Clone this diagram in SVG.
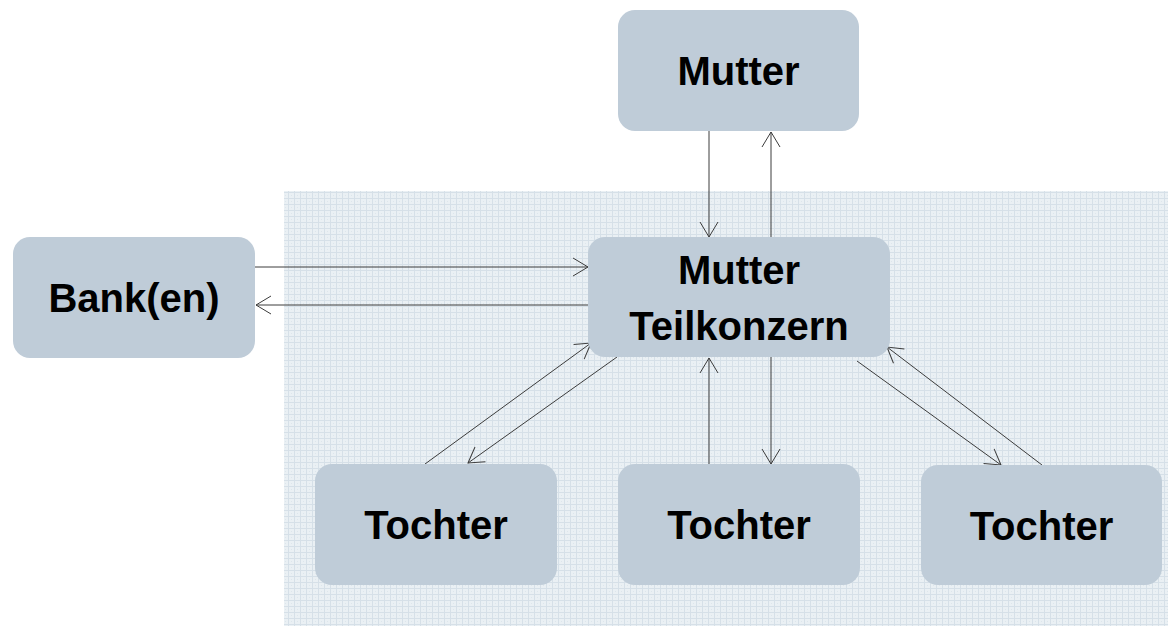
<svg xmlns="http://www.w3.org/2000/svg" width="1168" height="626" viewBox="0 0 1168 626">
<style>
.node{fill:#bfccd8;}
.lbl{font-family:"Liberation Sans",Arial,sans-serif;font-weight:bold;font-size:40px;fill:#000;text-anchor:middle;}
.con{stroke:#3c3c3c;stroke-width:1;fill:none;marker-end:url(#arr);}
</style>
<defs>
<pattern id="grid" width="6" height="6" patternUnits="userSpaceOnUse">
<rect width="6" height="6" fill="#eaf0f4"/>
<rect x="0" y="0" width="6" height="1" fill="#d6e0e8"/>
<rect x="0" y="0" width="1" height="6" fill="#d6e0e8"/>
<rect x="3" y="3" width="1" height="1" fill="#dde6ec"/>
</pattern>
<marker id="arr" viewBox="-16 -10 17 20" refX="0" refY="0" markerWidth="17" markerHeight="20" markerUnits="userSpaceOnUse" orient="auto">
<path d="M-15,-9 L0,0 L-15,9" fill="none" stroke="#3c3c3c" stroke-width="1"/>
</marker>
</defs>
<rect x="0" y="0" width="1168" height="626" fill="#ffffff"/>
<rect x="284" y="191" width="884" height="435" fill="url(#grid)"/>
<g id="connectors">
<line class="con" x1="709" y1="131" x2="709" y2="237"/>
<line class="con" x1="771" y1="237" x2="771" y2="132"/>
<line class="con" x1="255" y1="267" x2="588" y2="267"/>
<line class="con" x1="588" y1="305" x2="256" y2="305"/>
<line class="con" x1="425" y1="464" x2="591" y2="343"/>
<line class="con" x1="617" y1="357" x2="468" y2="463"/>
<line class="con" x1="709" y1="464" x2="709" y2="358"/>
<line class="con" x1="771" y1="357" x2="771" y2="464"/>
<line class="con" x1="857" y1="361" x2="1001" y2="465"/>
<line class="con" x1="1042" y1="465" x2="887" y2="347"/>
</g>
<g id="mutter">
<rect class="node" x="618" y="10" width="241" height="121" rx="17"/>
<text class="lbl" x="738.5" y="85">Mutter</text>
</g>
<g id="mutter-teilkonzern">
<rect class="node" x="588" y="237" width="302" height="120" rx="17"/>
<text class="lbl" x="739" y="284">Mutter</text>
<text class="lbl" x="739" y="340">Teilkonzern</text>
</g>
<g id="bank">
<rect class="node" x="13" y="237" width="242" height="121" rx="17"/>
<text class="lbl" x="134" y="312">Bank(en)</text>
</g>
<g id="tochter1">
<rect class="node" x="315" y="464" width="242" height="121" rx="17"/>
<text class="lbl" x="436" y="539">Tochter</text>
</g>
<g id="tochter2">
<rect class="node" x="618" y="464" width="242" height="121" rx="17"/>
<text class="lbl" x="739" y="539">Tochter</text>
</g>
<g id="tochter3">
<rect class="node" x="921" y="465" width="241" height="120" rx="17"/>
<text class="lbl" x="1041.5" y="540">Tochter</text>
</g>
</svg>
